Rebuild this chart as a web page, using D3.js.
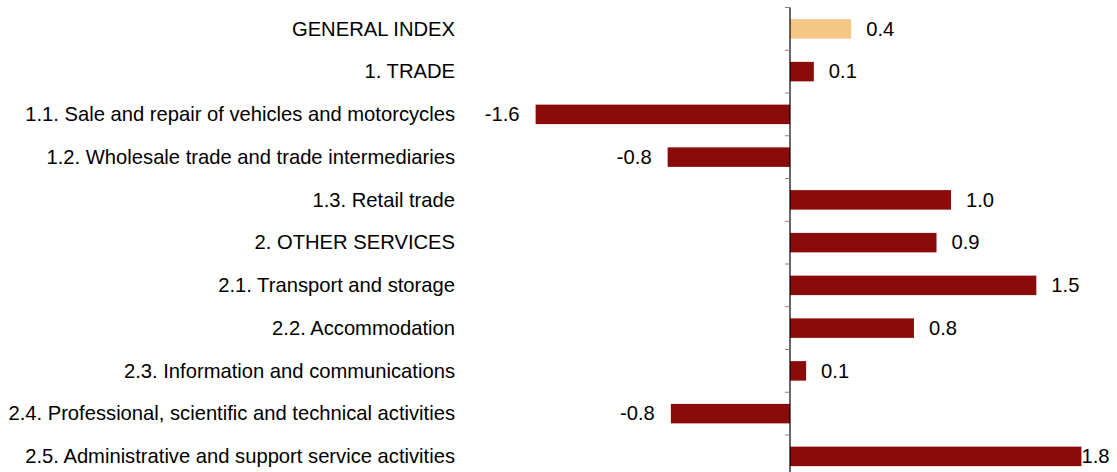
<!DOCTYPE html>
<html><head><meta charset="utf-8">
<script src="https://cdn.jsdelivr.net/npm/d3@7"></script>
<style>
html,body{margin:0;padding:0;background:#fff;}
text{font-family:"Liberation Sans",Arial,sans-serif;font-size:20.2px;fill:#000;}
</style></head>
<body><svg id="c" width="1117" height="472"></svg>
<script>
const categories = [
  "GENERAL INDEX",
  "1. TRADE",
  "1.1. Sale and repair of vehicles and motorcycles",
  "1.2. Wholesale trade and trade intermediaries",
  "1.3. Retail trade",
  "2. OTHER SERVICES",
  "2.1. Transport and storage",
  "2.2. Accommodation",
  "2.3. Information and communications",
  "2.4. Professional, scientific and technical activities",
  "2.5. Administrative and support service activities"
];
const values = [0.38, 0.148, -1.58, -0.76, 1.0, 0.91, 1.53, 0.77, 0.1, -0.74, 1.81];
const labels = ["0.4", "0.1", "-1.6", "-0.8", "1.0", "0.9", "1.5", "0.8", "0.1", "-0.8", "1.8"];
const highlight = [true, false, false, false, false, false, false, false, false, false, false];

const W = 1117, H = 472;
const x0 = 790, pxPerUnit = 161;
const svg = d3.select("#c");

const x = d3.scaleLinear().domain([0, 1]).range([x0, x0 + pxPerUnit]);
const y = d3.scaleBand().domain(categories).range([7.5, 7.5 + categories.length * 42.75]).padding(0);
const barH = 19.5;

// bars
svg.selectAll("rect.bar").data(categories).enter().append("rect")
  .attr("x", (d, i) => Math.min(x(0), x(values[i])))
  .attr("width", (d, i) => Math.abs(x(values[i]) - x(0)))
  .attr("y", d => y(d) + y.bandwidth() / 2 - barH / 2)
  .attr("height", barH)
  .attr("fill", (d, i) => highlight[i] ? "#F5C684" : "#8B0A0A");

// axis line + ticks
const g = svg.append("g").attr("transform", `translate(${x0},0)`);
g.append("line").attr("x1", 0).attr("x2", 0).attr("y1", y.range()[0]).attr("y2", y.range()[1])
  .attr("stroke", "#000").attr("stroke-width", 1.2);
const tickYs = categories.map(c => y(c)).concat([y.range()[1]]);
g.selectAll("line.tick").data(tickYs).enter().append("line")
  .attr("x1", -5).attr("x2", 0).attr("y1", d => d).attr("y2", d => d)
  .attr("stroke", "#808080").attr("stroke-width", 1);

// category labels
svg.selectAll("text.cat").data(categories).enter().append("text")
  .attr("x", 455).attr("y", d => y(d) + y.bandwidth() / 2)
  .attr("dy", "0.33em").attr("text-anchor", "end").text(d => d);

// value labels
svg.selectAll("text.val").data(categories).enter().append("text")
  .attr("y", d => y(d) + y.bandwidth() / 2)
  .attr("dy", "0.33em")
  .text((d, i) => labels[i])
  .each(function (d, i) {
    const v = values[i];
    const t = d3.select(this);
    const w = this.getComputedTextLength();
    if (v >= 0) {
      let px = x(v) + 15;
      if (px + w > W - 9) px = x(v);
      t.attr("x", px).attr("text-anchor", "start");
    } else {
      t.attr("x", x(v) - 16).attr("text-anchor", "end");
    }
  });
</script></body></html>
